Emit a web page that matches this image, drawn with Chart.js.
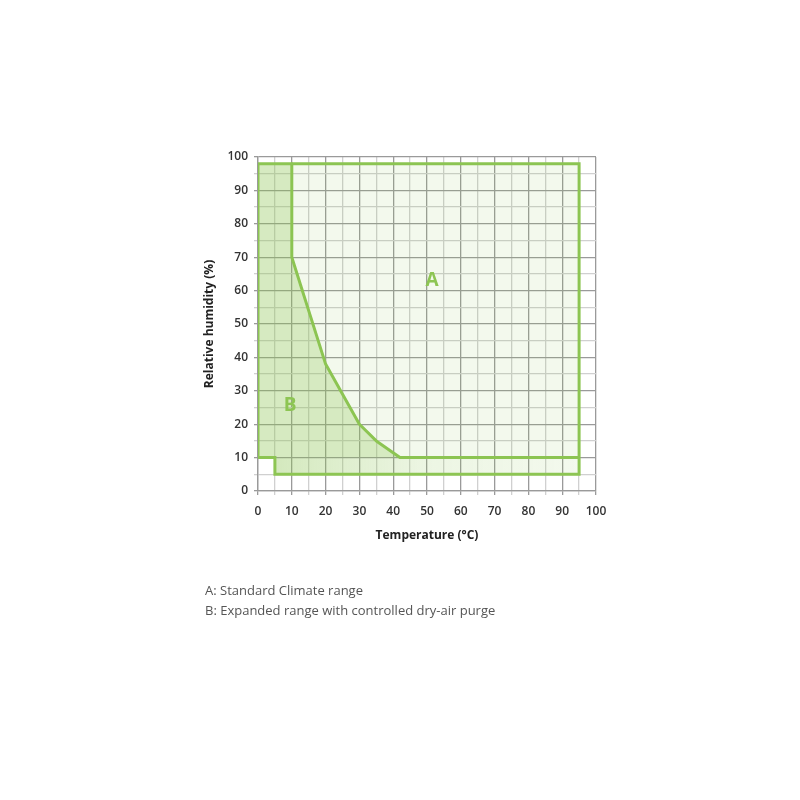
<!DOCTYPE html>
<html>
<head>
<meta charset="utf-8">
<script src="https://cdn.jsdelivr.net/npm/chart.js@4"></script>
<style>
html,body{margin:0;padding:0;background:#fff;}
#wrap{position:relative;width:800px;height:800px;}
#c{position:absolute;left:0;top:0;}
.note{position:absolute;left:205px;font-family:"Open Sans",sans-serif;font-size:13px;color:#555;line-height:20px;}
</style>
</head>
<body>
<div id="wrap">
<canvas id="c" width="800" height="800"></canvas>
<div class="note" style="top:580px;">A: Standard Climate range<br>B: Expanded range with controlled dry-air purge</div>
</div>
<script>
// Boundary of the whole operating range (temperature °C, relative humidity %)
const outerTemp = [0, 0, 95, 95, 5, 5, 0];
const outerRH   = [10, 98, 98, 5, 5, 10, 10];
// Boundary between standard range A and expanded range B
const innerTemp = [10, 10, 20, 30, 35, 42, 95];
const innerRH   = [98, 70, 38, 20, 15, 10, 10];
// Region A polygon
const aTemp = [10, 95, 95, 42, 35, 30, 20, 10];
const aRH   = [98, 98, 10, 10, 15, 20, 38, 70];
// Region B polygon (above the low band)
const bTemp = [0, 0, 10, 10, 20, 30, 35, 42, 0];
const bRH   = [10, 98, 98, 70, 38, 20, 15, 10, 10];
// Low band polygon
const bandTemp = [5, 95, 95, 5];
const bandRH   = [5, 5, 10, 10];
// Region labels
const regionNames = ['A', 'B'];
const regionTemp  = [51.5, 9.5];
const regionRH    = [63, 25.5];

const axisMin = 0, axisMax = 100;
const xTitle = 'Temperature (°C)';
const yTitle = 'Relative humidity (%)';

const GREEN = '#8dc553';
const pts = (xs, ys) => xs.map((x, i) => ({x, y: ys[i]}));

const bandGradient = (ctx) => {
  const chart = ctx.chart;
  const area = chart.chartArea;
  if (!area) return 'rgba(141,197,83,0.25)';
  const xs = chart.scales.x;
  const g = chart.ctx.createLinearGradient(xs.getPixelForValue(5), 0, xs.getPixelForValue(95), 0);
  g.addColorStop(0, 'rgba(141,197,83,0.38)');
  g.addColorStop(0.5, 'rgba(141,197,83,0.16)');
  g.addColorStop(1, 'rgba(141,197,83,0.10)');
  return g;
};

const labelPlugin = {
  id: 'regionLabels',
  afterDatasetsDraw(chart) {
    const c = chart.ctx;
    c.save();
    c.fillStyle = GREEN;
    c.font = 'bold 19px "Open Sans", sans-serif';
    c.textAlign = 'center';
    c.textBaseline = 'middle';
    regionNames.forEach((n, i) => {
      c.fillText(n, chart.scales.x.getPixelForValue(regionTemp[i]), chart.scales.y.getPixelForValue(regionRH[i]));
    });
    c.restore();
  }
};

const gridColor = (ctx) => (ctx.tick && ctx.tick.value % 10 === 0) ? '#9a9a9a' : '#d0d0d0';

new Chart(document.getElementById('c'), {
  type: 'scatter',
  data: {
    datasets: [
      {data: pts(aTemp, aRH), showLine: true, fill: 'shape', backgroundColor: 'rgba(141,197,83,0.10)', borderWidth: 0, pointRadius: 0},
      {data: pts(bTemp, bRH), showLine: true, fill: 'shape', backgroundColor: 'rgba(141,197,83,0.36)', borderWidth: 0, pointRadius: 0},
      {data: pts(bandTemp, bandRH), showLine: true, fill: 'shape', backgroundColor: bandGradient, borderWidth: 0, pointRadius: 0},
      {data: pts(outerTemp, outerRH), showLine: true, fill: false, borderColor: GREEN, borderWidth: 3, pointRadius: 0, borderJoinStyle: 'miter'},
      {data: pts(innerTemp, innerRH), showLine: true, fill: false, borderColor: GREEN, borderWidth: 3, pointRadius: 0, borderJoinStyle: 'round'}
    ]
  },
  options: {
    responsive: false,
    animation: false,
    layout: {padding: {left: 198, top: 157, right: 204, bottom: 257}},
    plugins: {legend: {display: false}, tooltip: {enabled: false}},
    scales: {
      x: {
        type: 'linear', min: axisMin, max: axisMax,
        afterFit: s => { s.height = 52; },
        ticks: {stepSize: 5, autoSkip: false, maxRotation: 0, color: '#333', padding: 9,
          font: {family: '"Open Sans", sans-serif', size: 12, weight: '600'},
          callback: v => v % 10 === 0 ? v : ''},
        grid: {color: gridColor, lineWidth: 1.3, tickLength: 4, tickColor: gridColor, drawOnChartArea: true},
        border: {color: '#9a9a9a', width: 1.3},
        title: {display: true, text: xTitle, color: '#222', padding: {top: 2, bottom: 0},
          font: {family: '"Open Sans", sans-serif', size: 12, weight: 'bold'}}
      },
      y: {
        type: 'linear', min: axisMin, max: axisMax,
        afterFit: s => { s.width = 60; },
        ticks: {stepSize: 5, autoSkip: false, color: '#333', padding: 6,
          font: {family: '"Open Sans", sans-serif', size: 12, weight: '600'},
          callback: v => v % 10 === 0 ? v : ''},
        grid: {color: gridColor, lineWidth: 1.3, tickLength: 4, tickColor: gridColor},
        border: {color: '#9a9a9a', width: 1.3},
        title: {display: true, text: yTitle, color: '#222', padding: {bottom: 2},
          font: {family: '"Open Sans", sans-serif', size: 12, weight: 'bold'}}
      }
    }
  },
  plugins: [labelPlugin]
});
</script>
</body>
</html>
